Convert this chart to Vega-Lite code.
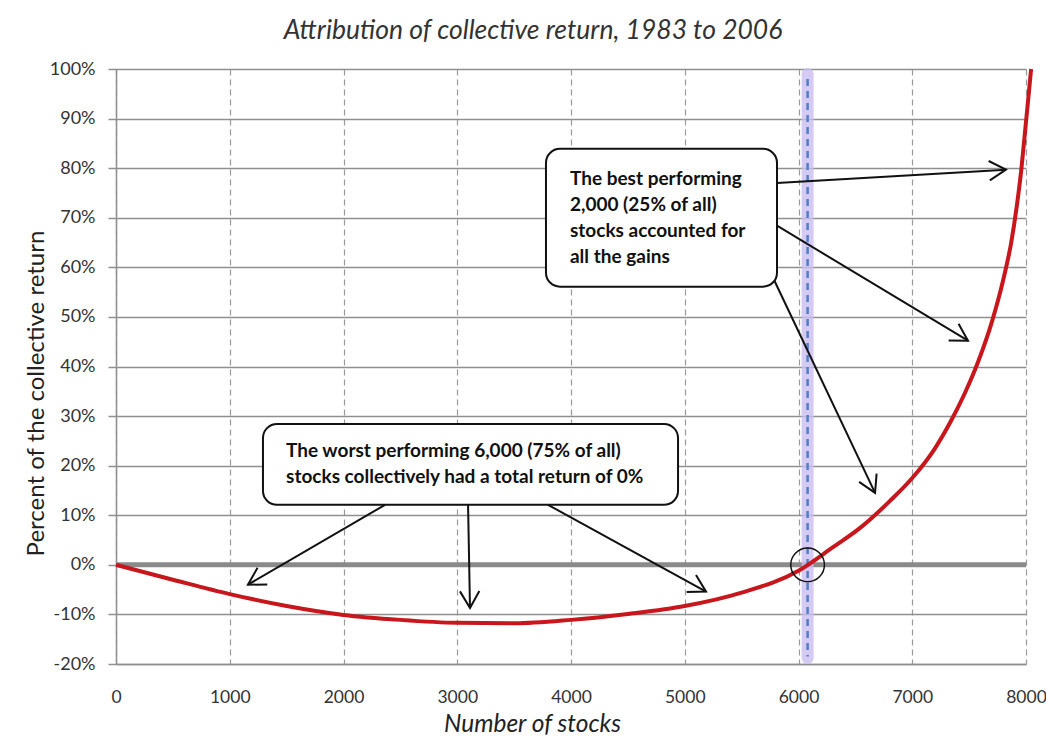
{
  "$schema": "https://vega.github.io/schema/vega-lite/v6.json",
  "width": 910,
  "height": 595,
  "autosize": {"type": "none"},
  "padding": {"left": 116, "top": 69, "right": 20, "bottom": 76},
  "background": "white",
  "config": {"view": {"stroke": null}, "font": "Lato"},
  "title": {
    "text": "Attribution of collective return, 1983 to 2006",
    "font": "Lato", "fontStyle": "italic", "fontWeight": "normal", "fontSize": 26.5, "color": "#333333",
    "anchor": "middle", "frame": "group", "dx": -38, "offset": -5, "baseline": "alphabetic"
  },
  "datasets": {
    "curve": [
      {"stocks": 0, "pct": 0}, {"stocks": 500, "pct": -3.0}, {"stocks": 1000, "pct": -5.9},
      {"stocks": 1500, "pct": -8.3}, {"stocks": 2000, "pct": -10.1}, {"stocks": 2500, "pct": -11.1},
      {"stocks": 3000, "pct": -11.7}, {"stocks": 3500, "pct": -11.8}, {"stocks": 4000, "pct": -11.1},
      {"stocks": 4500, "pct": -9.9}, {"stocks": 5000, "pct": -8.3}, {"stocks": 5500, "pct": -5.6},
      {"stocks": 6000, "pct": -1.2}, {"stocks": 6300, "pct": 3.5},
      {"stocks": 6550, "pct": 7.6}, {"stocks": 6800, "pct": 12.8}, {"stocks": 7000, "pct": 17.5},
      {"stocks": 7200, "pct": 23.5}, {"stocks": 7340, "pct": 29.0}, {"stocks": 7460, "pct": 34.5},
      {"stocks": 7580, "pct": 41.0}, {"stocks": 7700, "pct": 49.0}, {"stocks": 7800, "pct": 57.5},
      {"stocks": 7870, "pct": 65.0}, {"stocks": 7920, "pct": 72.5}, {"stocks": 7960, "pct": 80.0},
      {"stocks": 7990, "pct": 87.0}, {"stocks": 8020, "pct": 94.0}, {"stocks": 8045, "pct": 100}
    ],
    "arrows": [
      {"arrow": "a", "stocks": 5811, "pct": 77.0, "stocks_end": 7824, "pct_end": 79.7},
      {"arrow": "b", "stocks": 5811, "pct": 68.4, "stocks_end": 7490, "pct_end": 45.2},
      {"arrow": "c", "stocks": 5776, "pct": 57.9, "stocks_end": 6673, "pct_end": 14.5},
      {"arrow": "d", "stocks": 2365, "pct": 12.1, "stocks_end": 1160, "pct_end": -4.0},
      {"arrow": "e", "stocks": 3095, "pct": 12.1, "stocks_end": 3112, "pct_end": -8.7},
      {"arrow": "f", "stocks": 3798, "pct": 12.1, "stocks_end": 5187, "pct_end": -5.4}
    ],
    "boxes": [
      {"stocks": 1292, "stocks_end": 4941, "pct": 28.4, "pct_end": 12.1},
      {"stocks": 3780, "stocks_end": 5811, "pct": 83.9, "pct_end": 56.1}
    ],
    "notes": [
      {"stocks": 1495, "pct": 21.8, "note": "The worst performing  6,000 (75% of all)\nstocks collectively had a total return of 0%"},
      {"stocks": 3991, "pct": 76.6, "note": "The best performing\n2,000 (25% of all)\nstocks accounted for\nall the gains"}
    ]
  },
  "layer": [
    {
      "data": {"name": "curve"},
      "mark": {"type": "point", "opacity": 0},
      "encoding": {
        "x": {
          "field": "stocks", "type": "quantitative",
          "scale": {"domain": [0, 8000], "nice": false, "zero": false},
          "axis": {
            "values": [0, 1000, 2000, 3000, 4000, 5000, 6000, 7000, 8000],
            "format": "d",
            "title": "Number of stocks",
            "titleFont": "Lato", "titleFontStyle": "italic", "titleFontWeight": "normal", "titleFontSize": 24.5, "titleColor": "#222222",
            "titleX": 416, "titleY": 67, "titleBaseline": "alphabetic",
            "labelFont": "Lato", "labelFontSize": 17.5, "labelColor": "#333333", "labelPadding": 24,
            "ticks": false, "domain": true, "domainColor": "#8f8f8f", "domainWidth": 1.5,
            "grid": true, "gridColor": "#9a9a9a", "gridWidth": 1.2, "gridDash": [6, 4],
            "labelFlush": false
          }
        },
        "y": {
          "field": "pct", "type": "quantitative",
          "scale": {"domain": [-20, 100], "nice": false, "zero": false},
          "axis": {
            "values": [-20, -10, 0, 10, 20, 30, 40, 50, 60, 70, 80, 90, 100],
            "labelExpr": "datum.value + '%'",
            "title": "Percent of the collective return",
            "titleFont": "Lato", "titleFontWeight": "normal", "titleFontSize": 24, "titleColor": "#222222",
            "titleX": -73, "titleY": 324, "titleBaseline": "alphabetic", "titleAngle": -90,
            "labelFont": "Lato", "labelFontSize": 18, "labelColor": "#333333", "labelPadding": 13,
            "tickSize": 8, "tickColor": "#8f8f8f", "tickWidth": 1.5,
            "domain": true, "domainColor": "#8f8f8f", "domainWidth": 1.5,
            "grid": true, "gridColor": "#8f8f8f", "gridWidth": 1.5,
            "labelFlush": false
          }
        }
      }
    },
    {
      "data": {"values": [{"pct": 0}]},
      "mark": {"type": "rule", "color": "#8a8a8a", "strokeWidth": 5},
      "encoding": {"y": {"field": "pct", "type": "quantitative"}}
    },
    {
      "data": {"values": [{"stocks": 6080, "pct": 99, "pct_end": -18.8}]},
      "mark": {"type": "rule", "color": "#cbbdf0", "strokeWidth": 12, "opacity": 0.8, "strokeCap": "round"},
      "encoding": {
        "x": {"field": "stocks", "type": "quantitative"},
        "y": {"field": "pct", "type": "quantitative"},
        "y2": {"field": "pct_end"}
      }
    },
    {
      "data": {"values": [{"stocks": 6080, "pct": 98, "pct_end": -18.5}]},
      "mark": {"type": "rule", "color": "#4f7fc4", "strokeWidth": 2.5, "strokeDash": [7, 5]},
      "encoding": {
        "x": {"field": "stocks", "type": "quantitative"},
        "y": {"field": "pct", "type": "quantitative"},
        "y2": {"field": "pct_end"}
      }
    },
    {
      "data": {"name": "curve"},
      "mark": {"type": "line", "color": "#c8161d", "strokeWidth": 4, "interpolate": "monotone"},
      "encoding": {
        "x": {"field": "stocks", "type": "quantitative"},
        "y": {"field": "pct", "type": "quantitative"}
      }
    },
    {
      "data": {"values": [{"stocks": 6080, "pct": 0}]},
      "mark": {"type": "point", "shape": "circle", "size": 1134, "filled": false, "stroke": "#111111", "strokeWidth": 1.5, "opacity": 1},
      "encoding": {
        "x": {"field": "stocks", "type": "quantitative"},
        "y": {"field": "pct", "type": "quantitative"}
      }
    },
    {
      "data": {"name": "arrows"},
      "mark": {"type": "rule", "color": "#111111", "strokeWidth": 2},
      "encoding": {
        "x": {"field": "stocks", "type": "quantitative"},
        "y": {"field": "pct", "type": "quantitative"},
        "x2": {"field": "stocks_end"},
        "y2": {"field": "pct_end"}
      }
    },
    {
      "data": {"name": "arrows"},
      "mark": {"type": "point", "shape": "M-0.866,-0.5L0,0L-0.866,0.5", "size": 1500, "filled": false, "stroke": "#111111", "strokeWidth": 2, "opacity": 1},
      "encoding": {
        "x": {"field": "stocks_end", "type": "quantitative"},
        "y": {"field": "pct_end", "type": "quantitative"},
        "angle": {
          "field": "arrow", "type": "nominal",
          "scale": {"type": "ordinal", "domain": ["a", "b", "c", "d", "e", "f"], "range": [356.5, 30.8, 64.6, 149.7, 88.9, 28.8]},
          "legend": null
        }
      }
    },
    {
      "data": {"name": "boxes"},
      "mark": {"type": "rect", "fill": "white", "stroke": "#111111", "strokeWidth": 2, "cornerRadius": 14},
      "encoding": {
        "x": {"field": "stocks", "type": "quantitative"},
        "x2": {"field": "stocks_end"},
        "y": {"field": "pct", "type": "quantitative"},
        "y2": {"field": "pct_end"}
      }
    },
    {
      "data": {"name": "notes"},
      "mark": {"type": "text", "align": "left", "baseline": "alphabetic", "lineBreak": "\n", "lineHeight": 26, "font": "Lato", "fontWeight": "bold", "fontSize": 19, "color": "#111111"},
      "encoding": {
        "x": {"field": "stocks", "type": "quantitative"},
        "y": {"field": "pct", "type": "quantitative"},
        "text": {"field": "note"}
      }
    }
  ]
}
